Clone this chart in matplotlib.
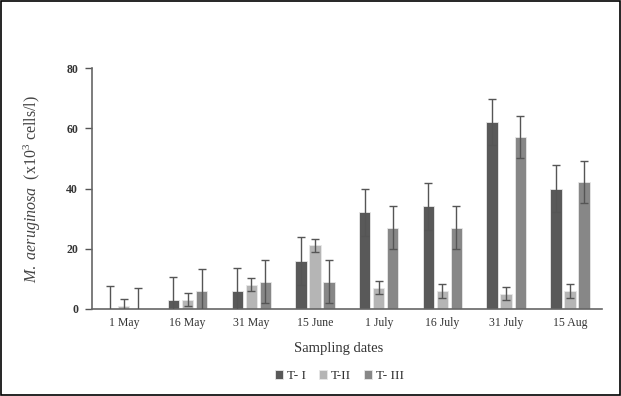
import matplotlib
matplotlib.use("Agg")
import matplotlib.pyplot as plt
import numpy as np
from matplotlib.patches import Rectangle

plt.rcParams['font.family'] = ['Liberation Serif', 'DejaVu Serif']
plt.rcParams['mathtext.fontset'] = 'custom'
plt.rcParams['mathtext.rm'] = 'Liberation Serif'
plt.rcParams['mathtext.it'] = 'Liberation Serif:italic'

dates = ["1 May", "16 May", "31 May", "15 June", "1 July", "16 July", "31 July", "15 Aug"]
series_names = ["T- I", "T-II", "T- III"]
t1 = [0, 3.1, 6.1, 16.0, 32.1, 34.1, 62.2, 40.0]
t2 = [1.1, 3.1, 8.1, 21.1, 7.1, 6.1, 5.1, 6.1]
t3 = [0, 6.1, 9.1, 9.1, 27.0, 27.0, 57.2, 42.3]
t1_err = [7.7, 7.6, 7.5, 8.0, 7.9, 7.8, 7.6, 7.9]
t2_err = [2.2, 2.2, 2.2, 2.1, 2.2, 2.3, 2.2, 2.3]
t3_err = [7.1, 7.2, 7.2, 7.2, 7.2, 7.2, 7.0, 7.0]
yticks = [0, 20, 40, 60, 80]

colors = ["#595959", "#b5b5b5", "#878787"]

fig = plt.figure(figsize=(6.21, 3.96), dpi=100)
ax = fig.add_axes([0.148, 0.2197, 0.821, 0.608])

x = np.arange(len(dates))
w = 0.178
offs = [-0.22, 0, 0.22]
for vals, errs, c, o, name in zip([t1, t2, t3], [t1_err, t2_err, t3_err], colors, offs, series_names):
    ax.bar(x + o, vals, width=w, color=c, edgecolor="#e8e8e8", linewidth=0.6, label=name, zorder=2)
    ax.errorbar(x + o, vals, yerr=errs, fmt='none', ecolor="#555555", elinewidth=1.0,
                capsize=3, capthick=1.0, zorder=3)

ax.set_xlim(-0.5, len(dates) - 0.5)
ax.set_ylim(0, 80)
ax.set_yticks(yticks)
ax.set_yticklabels([str(v) for v in yticks], fontweight='bold', fontsize=8.5, color="#333333")
ax.set_xticks(x)
ax.set_xticklabels(dates, fontsize=8.5, color="#333333")
ax.tick_params(axis='x', length=0, pad=6)
ax.tick_params(axis='y', length=5, width=1, color="#555555", direction='out', pad=5)
for s in ['top', 'right']:
    ax.spines[s].set_visible(False)
for s in ['left', 'bottom']:
    ax.spines[s].set_color("#666666")
    ax.spines[s].set_linewidth(1.2)

ax.set_ylabel(r"$\it{M.\ aeruginosa}$  (x10$^3$ cells/l)", fontsize=11.5, color="#444444", labelpad=17)
ax.set_xlabel("Sampling dates", fontsize=10.5, color="#333333", labelpad=9)
ax.xaxis.label.set_x(0.484)

leg = ax.legend(loc='upper center', bbox_to_anchor=(0.486, -0.205), ncol=3, frameon=False,
                fontsize=9.5, handlelength=0.6, handleheight=0.6, handletextpad=0.3, columnspacing=1.0)
for t in leg.get_texts():
    t.set_color("#333333")

fig.patches.append(Rectangle((0.001, 0.002), 0.997, 0.995, transform=fig.transFigure,
                             fill=False, edgecolor="black", linewidth=1.2))

fig.savefig("out.png", dpi=100)
